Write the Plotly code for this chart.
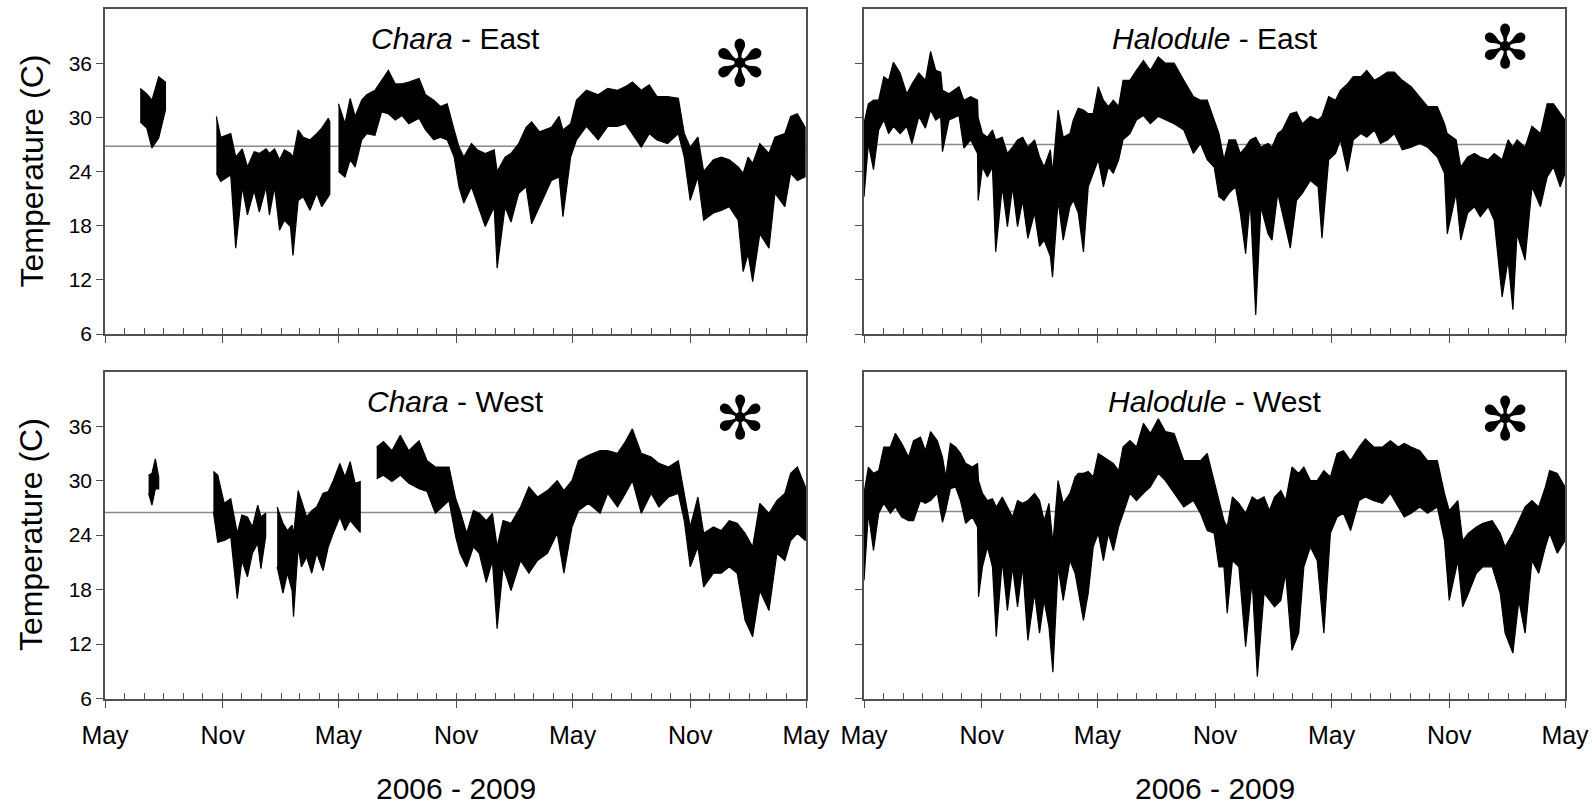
import pandas as pd
import plotly.graph_objects as go

# ---------------- data ----------------
# time: months after 1 May 2006 ; None marks a gap in the record
# hi / lo: upper and lower envelope of the logged temperature (deg C)

chara_east_t = [1.8, 2.14, 2.4, 2.74, 3.08, None,
                5.68, 5.9, 6.42, 6.68, 7.02, 7.28, 7.62, 7.88, 8.22, 8.39, 8.65, 8.9, 9.16, 9.5, 9.64,
                9.93, 10.19, 10.53, 10.87, 11.13, 11.47, 11.55, None,
                12.0, 12.33, 12.59, 12.84, 13.18, 13.44, 13.87, 14.21, 14.55, 14.9, 15.24, 15.58, 16.1,
                16.44, 16.87, 17.21, 17.55, 17.9, 18.15, 18.4, 18.8, 19.1, 19.5, 19.95, 20.1, 20.5, 20.8,
                21.2, 21.6, 21.9, 22.3, 22.9, 23.3, 23.5, 23.9, 24.2, 24.7, 25.3, 25.8, 26.3, 26.7, 27.05,
                27.5, 27.9, 28.3, 28.85, 29.4, 29.7, 30.0, 30.4, 30.7, 31.2, 31.6, 32.0, 32.45, 32.7,
                32.95, 33.2, 33.6, 34.1, 34.4, 34.9, 35.2, 35.55, 35.95]
chara_east_hi = [33.2, 32.6, 31.9, 34.5, 33.9, None,
                 30.1, 27.8, 28.2, 25.6, 26.5, 24.5, 26.2, 26.0, 26.5, 26.0, 26.5, 25.3, 26.4, 26.0, 25.6,
                 28.6, 27.8, 27.5, 28.2, 28.8, 29.9, 29.5, None,
                 31.5, 29.3, 32.1, 30.1, 31.9, 32.5, 33.0, 34.1, 35.2, 33.7, 33.7, 33.9, 34.3,
                 32.5, 31.9, 31.2, 31.5, 28.6, 26.7, 25.6, 27.1, 26.4, 26.0, 26.4, 24.0, 25.6, 26.0,
                 27.1, 28.9, 29.5, 28.4, 28.9, 30.1, 28.6, 29.3, 31.9, 33.0, 32.5, 33.2, 33.0, 33.4, 33.9,
                 33.0, 33.6, 32.3, 32.3, 32.1, 28.2, 26.7, 27.8, 24.0, 25.3, 25.6, 25.3, 24.5, 23.8,
                 25.6, 24.9, 27.1, 26.0, 27.8, 28.2, 30.1, 30.4, 28.9]
chara_east_lo = [29.5, 28.8, 26.6, 27.7, 30.8, None,
                 23.8, 22.9, 23.6, 15.5, 22.3, 19.2, 21.9, 19.5, 22.3, 19.2, 22.3, 17.5, 18.6, 17.9, 14.7,
                 20.8, 21.2, 19.7, 21.6, 20.1, 21.2, 21.5, None,
                 24.0, 23.4, 25.3, 24.5, 27.5, 28.2, 28.0, 30.6, 30.4, 29.7, 30.2, 29.3, 29.9,
                 28.6, 27.5, 27.8, 27.5, 25.6, 22.3, 20.5, 22.3, 20.5, 17.9, 20.1, 13.3, 20.1, 18.4,
                 21.6, 22.3, 18.2, 20.1, 23.0, 23.4, 19.0, 25.6, 27.5, 29.0, 27.5, 29.0, 29.0, 29.3, 28.2,
                 26.7, 28.2, 27.5, 27.1, 28.2, 25.6, 20.8, 23.4, 18.6, 19.4, 19.7, 20.1, 18.6, 12.9,
                 14.9, 11.8, 17.1, 15.5, 21.6, 20.1, 23.8, 23.0, 23.4]

chara_west_t = [2.23, 2.4, 2.57, 2.74, None,
                5.53, 5.75, 6.08, 6.42, 6.6, 6.76, 7.0, 7.28, 7.53, 7.8, 7.96, 8.2, None,
                8.78, 9.08, 9.33, 9.59, 9.67, 9.93, 10.1, 10.36, 10.62, 10.87, 11.2, 11.47, 11.73,
                12.07, 12.33, 12.59, 12.84, 13.1, None,
                13.96, 14.3, 14.73, 15.15, 15.58, 16.1, 16.52, 16.95, 17.2, 17.64, 17.98, 18.2, 18.55,
                18.9, 19.2, 19.55, 19.86, 20.1, 20.4, 20.8, 21.3, 21.75, 22.2, 22.7, 23.2, 23.55, 23.97,
                24.3, 24.8, 25.4, 25.8, 26.3, 26.7, 27.05, 27.5, 28.0, 28.4, 28.9, 29.4, 29.7, 30.0,
                30.4, 30.7, 31.2, 31.6, 32.0, 32.4, 32.8, 33.2, 33.6, 34.1, 34.5, 34.9, 35.2, 35.55, 35.97]
chara_west_hi = [30.6, 30.8, 32.4, 30.4, None,
                 31.0, 30.6, 27.5, 28.0, 26.0, 24.2, 26.2, 26.0, 24.9, 27.3, 26.0, 26.4, None,
                 27.1, 25.3, 24.5, 25.1, 24.0, 28.9, 27.8, 26.0, 26.7, 27.1, 28.6, 28.8, 30.0,
                 31.9, 30.4, 32.1, 29.7, 29.9, None,
                 33.7, 34.3, 33.3, 35.0, 33.3, 34.4, 32.2, 31.5, 31.5, 31.5, 28.0, 26.7, 24.2,
                 26.7, 26.4, 25.6, 26.4, 22.7, 25.6, 25.3, 27.1, 29.3, 28.2, 28.9, 30.0, 28.9, 30.0,
                 32.2, 32.8, 33.3, 33.3, 33.0, 34.3, 35.7, 33.0, 32.6, 31.9, 31.5, 32.2, 28.6, 24.9,
                 28.2, 24.2, 24.9, 24.5, 25.6, 25.3, 24.2, 22.7, 27.5, 26.4, 27.8, 28.6, 30.8, 31.5, 29.3]
chara_west_lo = [28.6, 27.3, 29.1, 29.1, None,
                 26.6, 23.2, 23.4, 23.8, 20.5, 17.0, 21.2, 19.4, 22.0, 23.1, 20.3, 23.8, None,
                 20.5, 17.6, 19.8, 17.9, 15.0, 22.7, 20.5, 21.6, 19.8, 22.0, 20.1, 22.7, 24.2,
                 26.0, 24.5, 25.6, 24.9, 24.3, None,
                 30.2, 30.6, 29.9, 30.6, 29.7, 29.1, 28.8, 26.4, 26.9, 27.8, 23.8, 22.0, 20.5,
                 22.7, 22.0, 18.8, 21.2, 13.7, 20.5, 17.9, 21.2, 19.8, 21.2, 22.0, 24.2, 19.8, 24.9,
                 26.7, 27.5, 26.4, 28.6, 27.1, 28.6, 30.0, 26.4, 28.6, 27.1, 28.2, 28.6, 25.6, 20.5,
                 22.7, 18.3, 19.8, 19.8, 20.5, 19.8, 14.6, 12.8, 17.9, 15.7, 22.0, 21.2, 23.4, 24.2, 23.4]

halodule_east_t = [0.0, 0.22, 0.48, 0.74, 1.0, 1.25, 1.5, 1.85, 2.19, 2.45, 2.8, 3.13, 3.39, 3.65, 3.9,
                   3.99, 4.33, 4.85, 5.1, 5.45, 5.79, 5.82, 6.04, 6.3, 6.56, 6.73, 7.07, 7.33, 7.59, 7.84,
                   8.1, 8.36, 8.7, 8.95, 9.2, 9.55, 9.67, 9.98, 10.24, 10.58, 10.75, 11.0, 11.27, 11.52,
                   11.78, 12.04, 12.3, 12.55, 12.8, 13.07, 13.3, 13.66, 14.0, 14.35, 14.7, 15.1, 15.46,
                   15.9, 16.4, 16.9, 17.26, 17.6, 17.95, 18.2, 18.46, 18.72, 19.06, 19.3, 19.57, 19.8,
                   20.08, 20.34, 20.7, 20.9, 21.2, 21.45, 21.88, 22.2, 22.5, 22.9, 23.3, 23.5, 23.85,
                   24.2, 24.45, 24.8, 25.1, 25.5, 25.8, 26.2, 26.5, 26.85, 27.2, 27.6, 28.05, 28.5, 28.9,
                   29.4, 29.76, 29.9, 30.36, 30.6, 30.96, 31.3, 31.6, 32.0, 32.3, 32.7, 33.0, 33.27, 33.5,
                   33.95, 34.3, 34.73, 35.07, 35.4, 35.75, 36.0]
halodule_east_hi = [29.3, 31.5, 31.9, 31.9, 34.5, 34.1, 36.1, 34.9, 32.6, 33.7, 34.9, 34.1, 37.3, 35.2, 35.0,
                    33.0, 32.6, 33.4, 31.9, 32.3, 31.9, 30.0, 28.2, 27.8, 28.6, 27.5, 27.8, 26.0, 26.7, 27.5,
                    27.8, 26.7, 27.5, 25.6, 24.5, 26.4, 23.8, 30.8, 27.8, 28.2, 29.7, 31.0, 30.8, 30.4,
                    30.4, 33.4, 31.9, 31.2, 31.9, 31.2, 34.1, 34.1, 35.2, 36.3, 35.2, 36.7, 36.0,
                    36.0, 34.1, 32.3, 31.9, 31.9, 29.7, 28.2, 25.3, 27.5, 27.5, 26.0, 26.7, 27.5,
                    27.8, 26.7, 27.1, 26.7, 28.2, 28.6, 30.4, 30.6, 29.3, 30.1, 29.7, 30.1, 32.3,
                    31.9, 33.0, 33.7, 34.5, 34.5, 35.2, 34.1, 34.5, 35.0, 35.0, 34.1, 33.4, 32.3, 31.2,
                    31.2, 29.3, 28.2, 27.5, 24.5, 25.6, 26.0, 25.6, 25.3, 26.0, 25.3, 27.5, 26.7, 27.5,
                    26.7, 29.0, 28.2, 31.5, 31.5, 30.4, 29.7]
halodule_east_lo = [21.2, 27.1, 24.2, 28.6, 29.7, 28.2, 29.0, 28.2, 29.0, 27.1, 30.1, 28.8, 30.8, 29.7, 30.1,
                    26.2, 29.7, 30.2, 26.6, 27.5, 26.0, 20.8, 24.5, 23.4, 24.5, 15.1, 22.3, 17.9, 22.3, 17.9,
                    20.8, 16.6, 19.4, 15.7, 16.4, 14.6, 12.3, 20.8, 16.4, 20.1, 20.8, 19.4, 15.1, 22.3,
                    23.8, 25.3, 22.3, 24.5, 23.8, 25.3, 27.5, 28.2, 29.7, 30.2, 29.3, 30.1, 29.7,
                    29.3, 28.6, 26.0, 27.1, 25.3, 24.5, 21.2, 20.8, 21.6, 22.3, 19.4, 14.9, 20.8,
                    8.1, 20.1, 17.1, 16.4, 21.6, 19.4, 15.5, 20.8, 21.6, 23.0, 22.3, 16.6, 25.3,
                    26.0, 27.5, 24.0, 27.5, 28.2, 27.8, 28.6, 27.1, 27.5, 28.2, 26.4, 26.7, 27.1, 26.7,
                    25.6, 23.8, 17.1, 21.6, 16.4, 19.4, 20.1, 19.0, 20.1, 18.6, 10.1, 14.2, 8.7, 17.1,
                    14.2, 22.3, 20.1, 23.4, 24.5, 22.3, 23.8]

halodule_west_t = [0.0, 0.22, 0.48, 0.74, 1.0, 1.34, 1.6, 1.93, 2.28, 2.53, 2.88, 3.13, 3.39, 3.73, 3.99,
                   4.16, 4.4, 4.67, 4.93, 5.19, 5.53, 5.79, 5.84, 6.04, 6.3, 6.56, 6.76, 7.07, 7.33, 7.59,
                   7.84, 8.1, 8.36, 8.7, 8.95, 9.2, 9.47, 9.69, 9.98, 10.24, 10.58, 10.84, 11.0, 11.27,
                   11.52, 11.78, 12.04, 12.3, 12.55, 12.8, 13.07, 13.3, 13.66, 14.0, 14.35, 14.7, 15.1,
                   15.46, 15.9, 16.4, 16.9, 17.26, 17.6, 17.95, 18.2, 18.46, 18.63, 18.9, 19.23, 19.57,
                   19.9, 20.16, 20.5, 20.77, 21.03, 21.37, 21.63, 21.97, 22.31, 22.57, 22.9, 23.25, 23.6,
                   23.94, 24.28, 24.6, 24.96, 25.4, 25.73, 26.16, 26.6, 27.0, 27.4, 27.7, 28.05, 28.5,
                   28.9, 29.4, 29.76, 30.0, 30.45, 30.7, 31.0, 31.4, 31.73, 32.2, 32.6, 32.85, 33.27,
                   33.6, 33.95, 34.3, 34.64, 34.98, 35.2, 35.6, 36.0]
halodule_west_hi = [28.6, 31.5, 30.8, 31.1, 33.7, 33.7, 35.2, 34.1, 32.6, 34.4, 34.8, 33.3, 35.4, 34.4, 32.6,
                    30.4, 34.1, 33.7, 33.0, 31.9, 31.5, 31.9, 30.0, 28.6, 27.8, 28.0, 27.1, 28.2, 27.1, 26.0,
                    27.8, 27.5, 27.8, 28.6, 27.8, 25.6, 27.5, 23.1, 30.0, 27.5, 28.6, 30.4, 30.8, 30.8,
                    31.0, 30.4, 33.0, 32.6, 32.2, 31.9, 31.1, 33.7, 34.4, 33.7, 36.3, 35.2, 36.8,
                    35.4, 35.2, 32.2, 32.2, 32.2, 33.0, 30.0, 27.8, 25.6, 24.9, 28.2, 27.5, 26.4,
                    28.2, 27.8, 28.2, 26.7, 28.2, 28.9, 27.8, 31.5, 30.8, 31.5, 30.0, 30.0, 31.1,
                    30.4, 33.0, 33.3, 32.2, 33.7, 34.6, 33.7, 33.7, 34.4, 33.7, 34.1, 33.7, 33.3,
                    32.2, 32.2, 28.6, 26.7, 27.8, 23.4, 24.2, 24.9, 25.3, 25.6, 24.2, 22.7, 24.2,
                    25.6, 27.1, 27.8, 27.1, 29.3, 31.1, 30.8, 29.3]
halodule_west_lo = [19.0, 26.4, 22.3, 26.4, 27.5, 26.4, 27.1, 26.0, 25.6, 25.6, 27.8, 27.5, 27.8, 28.6, 25.4,
                    26.7, 29.1, 29.3, 27.8, 25.3, 26.0, 24.9, 17.2, 20.5, 22.7, 20.5, 12.8, 21.2, 15.7, 20.5,
                    16.1, 20.5, 12.4, 17.6, 13.2, 16.8, 13.9, 8.9, 20.5, 16.8, 21.2, 19.8, 17.6, 14.6,
                    17.6, 22.7, 24.2, 21.2, 24.2, 22.3, 24.9, 26.4, 28.6, 27.8, 28.6, 29.3, 30.8,
                    30.0, 28.6, 27.1, 27.8, 26.4, 24.5, 24.2, 20.5, 20.5, 15.4, 21.2, 20.5, 11.7,
                    19.0, 8.4, 17.6, 16.8, 16.1, 16.8, 19.8, 11.3, 13.2, 20.5, 22.7, 21.2, 13.2,
                    24.2, 26.0, 26.4, 24.5, 27.8, 28.2, 27.8, 27.5, 28.6, 27.1, 26.0, 26.4, 27.1,
                    26.4, 27.1, 23.4, 16.8, 21.2, 16.1, 17.6, 19.8, 20.5, 20.5, 17.6, 13.2, 11.0,
                    16.8, 13.2, 21.2, 19.8, 22.7, 24.2, 22.0, 23.4]

panel_titles = ["<i>Chara</i> - East", "<i>Halodule</i> - East",
                "<i>Chara</i> - West", "<i>Halodule</i> - West"]
reference_temp = [26.8, 27.0, 26.5, 26.6]      # horizontal line in each panel
y_ticks = [6, 12, 18, 24, 30, 36]
y_range = [6, 42]
x_start, x_end = "2006-05-01", "2009-05-01"
x_title = "2006 - 2009"
y_title = "Temperature (C)"

# ---------------- helpers ----------------
BASE = pd.Timestamp(x_start)


def month_to_date(m):
    whole = int(m)
    frac = m - whole
    a = BASE + pd.DateOffset(months=whole)
    b = BASE + pd.DateOffset(months=whole + 1)
    return a + (b - a) * frac


def segments(t, hi, lo):
    segs, cur = [], []
    for a, b, c in zip(t, hi, lo):
        if a is None:
            if cur:
                segs.append(cur)
            cur = []
        else:
            cur.append((a, b, c))
    if cur:
        segs.append(cur)
    return segs


panels = [
    (chara_east_t, chara_east_hi, chara_east_lo),
    (halodule_east_t, halodule_east_hi, halodule_east_lo),
    (chara_west_t, chara_west_hi, chara_west_lo),
    (halodule_west_t, halodule_west_hi, halodule_west_lo),
]

W, H = 1592, 804
x_dom = [[105 / W, 806 / W], [864 / W, 1565 / W]]
y_dom = [[1 - 334 / H, 1 - 9 / H], [1 - 698.5 / H, 1 - 371.7 / H]]
# panel order: TL, TR, BL, BR
pos = [(0, 0), (1, 0), (0, 1), (1, 1)]
# asterisk offset (px below panel top) per panel
ast_drop = [55, 38, 46, 47]

FONT = "Liberation Sans, Arial, Helvetica, sans-serif"
FRAME = "#505050"

fig = go.Figure()
layout = dict(
    template="none",
    width=W, height=H, margin=dict(l=0, r=0, t=0, b=0, pad=0, autoexpand=False),
    paper_bgcolor="white", plot_bgcolor="white", showlegend=False,
    font=dict(family=FONT, color="black"),
)
annotations = []
shapes = []

for i, (t, hi, lo) in enumerate(panels):
    k = i + 1
    xs = "x" if k == 1 else f"x{k}"
    ys = "y" if k == 1 else f"y{k}"
    col, row = pos[i]
    bottom = row == 1
    left = col == 0

    for seg in segments(t, hi, lo):
        dt = [month_to_date(s[0]) for s in seg]
        px = dt + dt[::-1]
        py = [s[1] for s in seg] + [s[2] for s in seg][::-1]
        fig.add_trace(go.Scatter(x=px, y=py, mode="lines", fill="toself",
                                 fillcolor="black", line=dict(color="black", width=1.2),
                                 xaxis=xs, yaxis=ys, hoverinfo="skip"))

    # overlay axis for the crossing six-month ticks and the month labels
    ko = k + 4
    fig.add_trace(go.Scatter(x=[None], y=[None], xaxis=f"x{ko}", yaxis=ys,
                             hoverinfo="skip"))

    layout[f"xaxis{'' if k == 1 else k}"] = dict(
        domain=x_dom[col], anchor=ys, type="date", range=[x_start, x_end], automargin=False,
        showgrid=False, zeroline=False, showline=True, linecolor=FRAME, linewidth=1.5,
        mirror=True, ticks="inside", dtick="M1", tick0=x_start, ticklen=6,
        tickcolor=FRAME, tickwidth=1, showticklabels=False,
    )
    layout[f"xaxis{ko}"] = dict(
        domain=x_dom[col], anchor=ys, overlaying=xs, type="date", range=[x_start, x_end],
        automargin=False, showgrid=False, zeroline=False, showline=False,
        ticks="outside", dtick="M6", tick0=x_start, ticklen=8, tickcolor=FRAME,
        tickwidth=1.2, tickformat="%b", showticklabels=bottom, ticklabelstandoff=6,
        tickfont=dict(size=25, family=FONT, color="black"),
    )
    layout[f"yaxis{'' if k == 1 else k}"] = dict(
        domain=y_dom[row], anchor=xs, range=y_range, tickvals=y_ticks, automargin=False,
        showgrid=False, zeroline=False, showline=True, linecolor=FRAME, linewidth=1.5,
        mirror=True, ticks="outside", ticklen=7, tickcolor=FRAME, tickwidth=1,
        showticklabels=left, tickfont=dict(size=21, family=FONT, color="black"),
    )

    shapes.append(dict(type="line", xref=f"{xs} domain", yref=ys, x0=0, x1=1,
                       y0=reference_temp[i], y1=reference_temp[i],
                       line=dict(color="#8a8a8a", width=1.5), layer="below"))

    cx = (x_dom[col][0] + x_dom[col][1]) / 2
    annotations.append(dict(text=panel_titles[i], xref="paper", yref="paper",
                            x=cx, y=y_dom[row][1] - 30 / H, xanchor="center", yanchor="middle",
                            showarrow=False, font=dict(size=30, family=FONT, color="black")))
    # significance asterisk
    ast_x = x_dom[col][0] + (x_dom[col][1] - x_dom[col][0]) * (0.906 if col == 0 else 0.914)
    ast_y = y_dom[row][1] - ast_drop[i] / H
    annotations.append(dict(text="✻", xref="paper", yref="paper", x=ast_x, y=ast_y,
                            xanchor="center", yanchor="middle", showarrow=False,
                            font=dict(size=64 if i == 0 else 60,
                                      family="DejaVu Sans", color="black")))
    if left:
        annotations.append(dict(text=y_title, xref="paper", yref="paper",
                                x=31 / W, y=(y_dom[row][0] + y_dom[row][1]) / 2,
                                xanchor="center", yanchor="middle", textangle=-90,
                                showarrow=False, font=dict(size=32, family=FONT, color="black")))
    if bottom:
        annotations.append(dict(text=x_title, xref="paper", yref="paper",
                                x=cx, y=1 - 788 / H, xanchor="center", yanchor="middle",
                                showarrow=False, font=dict(size=30, family=FONT, color="black")))

layout["annotations"] = annotations
layout["shapes"] = shapes
fig.update_layout(**layout)
fig.write_html("out.html")
